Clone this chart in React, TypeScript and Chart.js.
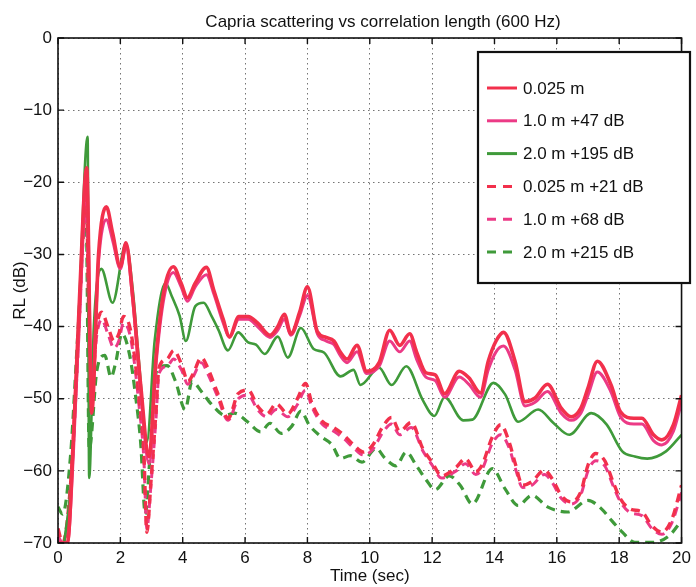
import React, { useEffect, useRef } from "react";
import { Chart, registerables } from "chart.js";

Chart.register(...registerables);

const chartTitle = "Capria scattering vs correlation length (600 Hz)";
const xAxisTitle = "Time (sec)";
const yAxisTitle = "RL (dB)";
const seriesLabels = ["0.025 m", "1.0 m +47 dB", "2.0 m +195 dB", "0.025 m +21 dB", "1.0 m +68 dB", "2.0 m +215 dB"];
const xTickValues = [0, 2, 4, 6, 8, 10, 12, 14, 16, 18, 20];
const yTickValues = [-70, -60, -50, -40, -30, -20, -10, 0];

const solid025T = [0, 0.3, 0.5, 0.7, 0.92, 1.08, 1.3, 1.55, 1.75, 2.0, 2.18, 2.4, 2.65, 2.92, 3.15, 3.4, 3.7, 3.95, 4.15, 4.4, 4.76, 5.0, 5.3, 5.5, 5.8, 6.1, 6.4, 6.8, 7.05, 7.26, 7.47, 7.75, 8.0, 8.32, 8.6, 8.85, 9.05, 9.27, 9.59, 9.9, 10.3, 10.64, 10.96, 11.28, 11.5, 11.8, 12.1, 12.4, 12.87, 13.18, 13.55, 13.8, 14.05, 14.29, 14.66, 14.98, 15.3, 15.7, 16.14, 16.46, 16.77, 17.0, 17.3, 17.73, 18.04, 18.47, 18.73, 19.1, 19.37, 19.74, 20.0];
const solid025V = [-70, -70, -55, -35, -18, -52, -30, -23.4, -27, -31.7, -28.4, -36, -48, -58, -44, -35, -31.7, -34, -36, -34, -31.8, -35, -39, -41.4, -38.6, -38.6, -39.5, -41.2, -40, -38.3, -41, -38, -34.5, -40.7, -41.5, -42, -43.5, -44.5, -42.6, -46.2, -45, -40.5, -42.6, -41, -43.5, -46.4, -46.7, -49.3, -46.2, -47.1, -49.2, -44.8, -42, -40.8, -44.8, -50.4, -49.9, -48, -51.3, -52.5, -51.3, -48.5, -44.8, -48, -51.8, -52.7, -52.7, -55, -55.7, -53.6, -49.5];
const solid10V = [-70, -70, -57, -37, -19, -50, -31, -25.2, -28, -32, -29, -36.5, -49, -59, -45, -36, -32.5, -34.5, -36.5, -34.5, -32.8, -35.5, -39.5, -41.5, -39, -39, -40, -41.5, -40.5, -39, -41.2, -38.5, -35.7, -41, -42, -42.5, -44, -45, -43.5, -46.5, -45.5, -42, -43.5, -42, -44.5, -47, -47.5, -49.8, -47, -48, -49.8, -46, -43.5, -42.7, -46, -51, -50.5, -49, -52, -53, -52, -49.5, -46.3, -49, -52.5, -53.5, -53.5, -55.8, -56.4, -54.5, -50.5];

const solid20T = [0.2, 0.45, 0.7, 0.95, 1.0, 1.15, 1.39, 1.75, 2.18, 2.4, 2.6, 2.85, 3.1, 3.45, 3.65, 3.9, 4.1, 4.4, 4.67, 4.93, 5.15, 5.45, 5.78, 6.1, 6.35, 6.63, 7.05, 7.37, 7.79, 8.2, 8.53, 9.06, 9.48, 9.7, 10.3, 10.7, 11.17, 11.7, 12.07, 12.4, 13.0, 13.29, 13.97, 14.34, 14.76, 15.4, 15.9, 16.4, 17.1, 17.6, 18.1, 18.5, 18.9, 19.5, 20.0];
const solid20V = [-70, -60, -35, -13.7, -61, -40, -32, -36.7, -28.5, -35, -45, -56, -42, -34, -35.8, -38.5, -42, -37.2, -36.7, -38.6, -40.5, -43.3, -40.8, -42.2, -42.5, -43.8, -41.4, -44.3, -40.2, -43.1, -43.6, -46.9, -46, -48.1, -45.7, -48.1, -45.5, -50.2, -52.4, -49.8, -53, -52.9, -47.8, -49.4, -53.2, -51.5, -53.4, -55, -52, -53.6, -57.3, -58, -58.3, -57.3, -55];

const dash025T = [0, 0.15, 0.4, 0.65, 0.9, 1.05, 1.25, 1.4, 1.6, 1.8, 1.95, 2.1, 2.3, 2.45, 2.6, 2.75, 2.85, 2.98, 3.14, 3.24, 3.5, 3.71, 3.96, 4.17, 4.33, 4.6, 4.8, 5.1, 5.46, 5.78, 6.1, 6.4, 6.7, 7.0, 7.37, 7.68, 7.94, 8.15, 8.47, 8.84, 9.16, 9.48, 9.8, 10.1, 10.4, 10.7, 10.96, 11.33, 11.7, 12.0, 12.3, 12.77, 13.07, 13.4, 13.6, 13.93, 14.2, 14.47, 14.68, 14.9, 15.2, 15.6, 15.85, 16.14, 16.46, 16.77, 17.0, 17.25, 17.55, 17.8, 18.04, 18.36, 18.73, 19.05, 19.37, 19.69, 20.0];
const dash025V = [-68, -70, -62, -42, -22, -50, -40, -38, -40, -42, -41, -38.6, -40, -44, -50, -57, -68.5, -61.6, -52, -45.7, -44.5, -43.3, -45.2, -47.6, -46.6, -44.3, -45.7, -49, -52.7, -49.3, -48.8, -51, -52.1, -50.7, -52.1, -50, -47.9, -50.7, -53.1, -54, -55, -56.4, -57.4, -56.4, -54, -52.6, -54.5, -53.3, -56.9, -58.8, -60.7, -59.5, -58.3, -60.1, -59.2, -55.3, -53.6, -56, -59.2, -62, -61.5, -59.9, -61.1, -63.4, -64.3, -62.9, -59.2, -57.6, -58.7, -61.5, -63.9, -65.3, -65.7, -67.6, -68.5, -66.7, -62];
const dash10V = [-69, -70, -63, -43, -23, -49, -41, -39, -41, -43, -42, -39.5, -41, -45, -51, -58, -68, -62, -53, -46.5, -45.5, -44.5, -46, -48, -47, -45, -46.5, -49.5, -53, -50, -49.5, -51.5, -52.5, -51.5, -52.5, -50.8, -48.8, -51.2, -53.5, -54.5, -55.5, -56.8, -57.8, -57, -54.8, -53.5, -55, -54, -57.2, -59.2, -61, -60, -59, -60.5, -59.8, -56.2, -55, -56.8, -59.8, -62.3, -62, -60.5, -61.6, -63.8, -64.6, -63.3, -60, -58.6, -59.4, -62, -64.3, -65.8, -66.2, -68, -68.8, -67.2, -63];

const dash20T = [0, 0.15, 0.4, 0.65, 0.9, 1.0, 1.25, 1.5, 1.7, 1.85, 2.05, 2.3, 2.5, 2.65, 2.8, 2.95, 3.16, 3.5, 3.77, 4.08, 4.3, 4.6, 4.93, 5.36, 5.66, 6.08, 6.5, 6.8, 7.16, 7.5, 7.79, 8.05, 8.42, 8.79, 9.06, 9.38, 9.75, 10.2, 10.5, 10.84, 11.17, 11.5, 11.8, 12.1, 12.55, 12.9, 13.29, 13.93, 14.34, 14.76, 15.2, 15.7, 16.35, 17.0, 17.44, 17.76, 18.1, 18.5, 19.1, 19.6, 20.0];
const dash20V = [-65, -66, -58, -40, -24, -57, -46, -44, -47, -45, -41, -44, -50, -56, -66, -58, -46.2, -45.4, -47.6, -51.5, -47.6, -49, -50.8, -52.3, -52, -53.2, -54.6, -53.4, -54.8, -53.8, -51.7, -53.6, -55.2, -56.4, -58.3, -57.9, -58.8, -56.9, -58.3, -59.3, -57.4, -59.3, -61.2, -62.6, -60.7, -62, -64.6, -59.7, -62.5, -64.8, -63.4, -65, -65.7, -64.1, -65.3, -66.9, -68.5, -69.9, -69.9, -69, -66.9];

const RED = "#f2304c";
const PINK = "#ec3a86";
const GREEN = "#3f9a3a";
const FONT = "'Liberation Sans', Arial, Helvetica, sans-serif";

const pts = (t: number[], v: number[]) => t.map((x, i) => ({ x, y: v[i] }));
const fmt = (v: number) => (v < 0 ? "\u2212" + Math.abs(v) : String(v));

const framePlugin = {
  id: "matlabFrame",
  afterDraw(chart: any) {
    const ctx = chart.ctx;
    const { left, right, top, bottom } = chart.chartArea;
    const xs = chart.scales.x;
    const ys = chart.scales.y;
    ctx.save();
    ctx.strokeStyle = "#111";
    ctx.lineWidth = 1.6;
    ctx.strokeRect(left, top, right - left, bottom - top);
    ctx.lineWidth = 1.4;
    const tl = 6;
    ctx.beginPath();
    xTickValues.forEach((t) => {
      const px = xs.getPixelForValue(t);
      ctx.moveTo(px, bottom);
      ctx.lineTo(px, bottom - tl);
      ctx.moveTo(px, top);
      ctx.lineTo(px, top + tl);
    });
    yTickValues.forEach((v) => {
      const py = ys.getPixelForValue(v);
      ctx.moveTo(left, py);
      ctx.lineTo(left + tl, py);
      ctx.moveTo(right, py);
      ctx.lineTo(right - tl, py);
    });
    ctx.stroke();

    // title
    ctx.fillStyle = "#111";
    ctx.font = "17px " + FONT;
    ctx.textAlign = "center";
    ctx.textBaseline = "middle";
    ctx.fillText(chartTitle, 383, 22);

    // legend
    const bx = 478, by = 52, bw = 212, bh = 231;
    ctx.fillStyle = "#fff";
    ctx.fillRect(bx, by, bw, bh);
    ctx.lineWidth = 2.2;
    ctx.strokeStyle = "#111";
    ctx.strokeRect(bx, by, bw, bh);
    const ds = chart.data.datasets;
    ds.forEach((d: any, i: number) => {
      const ry = 88 + i * 32.8;
      ctx.beginPath();
      ctx.strokeStyle = d.borderColor;
      ctx.lineWidth = 3;
      ctx.setLineDash(d.borderDash && d.borderDash.length ? [9, 7] : []);
      ctx.moveTo(487, ry);
      ctx.lineTo(517, ry);
      ctx.stroke();
      ctx.setLineDash([]);
      ctx.fillStyle = "#111";
      ctx.font = "17px " + FONT;
      ctx.textAlign = "left";
      ctx.fillText(d.label, 523, ry + 1);
    });
    ctx.restore();
  },
};

export default function App() {
  const ref = useRef<HTMLCanvasElement | null>(null);
  useEffect(() => {
    if (!ref.current) return;
    const mk = (label: string, t: number[], v: number[], color: string, w: number, dashed: boolean) => ({
      label,
      data: pts(t, v),
      borderColor: color,
      backgroundColor: color,
      borderWidth: w,
      borderDash: dashed ? [9, 6] : [],
      pointRadius: 0,
      fill: false,
      cubicInterpolationMode: "monotone" as const,
    });
    const chart = new Chart(ref.current, {
      type: "line",
      data: {
        datasets: [
          mk(seriesLabels[0], solid025T, solid025V, RED, 3.6, false),
          mk(seriesLabels[1], solid025T, solid10V, PINK, 3, false),
          mk(seriesLabels[2], solid20T, solid20V, GREEN, 2.6, false),
          mk(seriesLabels[3], dash025T, dash025V, RED, 3.4, true),
          mk(seriesLabels[4], dash025T, dash10V, PINK, 3, true),
          mk(seriesLabels[5], dash20T, dash20V, GREEN, 3.2, true),
        ],
      },
      options: {
        animation: false,
        responsive: true,
        maintainAspectRatio: false,
        layout: { padding: { top: 38, right: 6, left: 10, bottom: 0 } },
        plugins: { legend: { display: false }, title: { display: false }, tooltip: { enabled: false } },
        scales: {
          x: {
            type: "linear",
            min: 0,
            max: 20,
            afterFit: (s: any) => {
              s.height = 44;
            },
            afterBuildTicks: (s: any) => {
              s.ticks = xTickValues.map((value) => ({ value }));
            },
            ticks: { color: "#111", font: { family: FONT, size: 17 }, padding: 5, maxRotation: 0, callback: (v: any) => fmt(Number(v)) },
            grid: { color: "rgba(70,70,70,0.75)", lineWidth: 1, drawTicks: false },
            border: { display: false, dash: [1.5, 3.5] },
            title: { display: true, text: xAxisTitle, color: "#111", font: { family: FONT, size: 17 }, padding: 0 },
          },
          y: {
            type: "linear",
            min: -70,
            max: 0,
            afterFit: (s: any) => {
              s.width = 48;
            },
            afterBuildTicks: (s: any) => {
              s.ticks = yTickValues.map((value) => ({ value }));
            },
            ticks: { color: "#111", font: { family: FONT, size: 17 }, padding: 6, callback: (v: any) => fmt(Number(v)) },
            grid: { color: "rgba(70,70,70,0.75)", lineWidth: 1, drawTicks: false },
            border: { display: false, dash: [1.5, 3.5] },
            title: { display: true, text: yAxisTitle, color: "#111", font: { family: FONT, size: 17 }, padding: 0 },
          },
        },
      },
      plugins: [framePlugin],
    });
    return () => chart.destroy();
  }, []);
  return (
    <div style={{ position: "absolute", left: 0, top: 0, width: 696, height: 587, background: "#fff" }}>
      <canvas ref={ref} />
    </div>
  );
}
